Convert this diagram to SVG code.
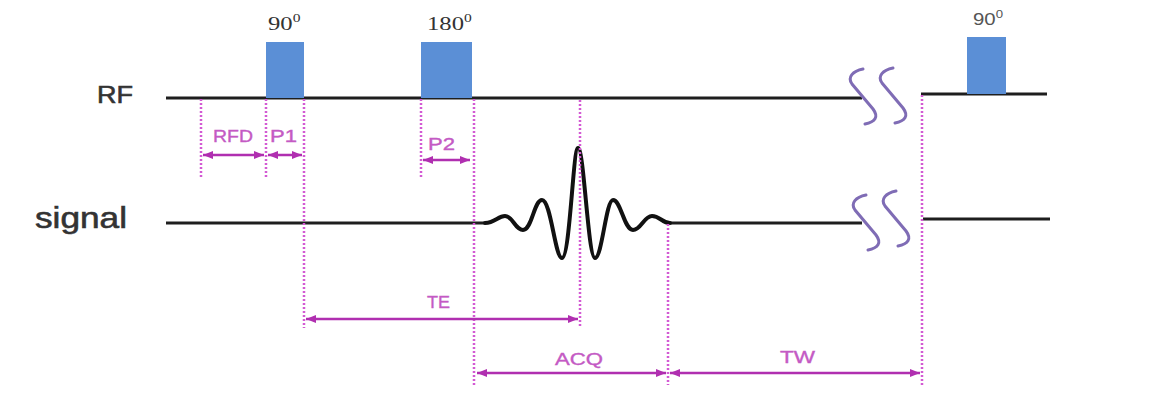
<svg xmlns="http://www.w3.org/2000/svg" width="1169" height="401" viewBox="0 0 1169 401">
<style>
.base{stroke:#1e1e1e;stroke-width:3;fill:none}
.wave{stroke:#111;stroke-width:4;fill:none;stroke-linejoin:round;stroke-linecap:round}
.pulse{fill:#5b8fd6}
.dot{stroke:#d35ad3;stroke-width:2.5;stroke-dasharray:2 2;fill:none}
.arr{stroke:#b02fb0;stroke-width:2.5;fill:none;marker-start:url(#ah);marker-end:url(#ah)}
.lbl{font-family:"Liberation Sans",Arial,sans-serif;font-size:16.5px;fill:#c45ac4;stroke:#c45ac4;stroke-width:0.35}
.axis{font-family:"Liberation Sans",Arial,sans-serif;fill:#333;stroke:#333;stroke-width:0.6}
.deg{font-family:"Liberation Serif","Times New Roman",serif;font-size:19px;fill:#333}
.brk{stroke:#7f6cb5;stroke-width:3;fill:none;stroke-linecap:round}
</style>
<defs>
<marker id="ah" markerUnits="userSpaceOnUse" markerWidth="11" markerHeight="9" refX="10" refY="4" orient="auto-start-reverse">
<path d="M0,0 L10,4 L0,8 z" fill="#b02fb0"/>
</marker>
<path id="s" d="M14,0 C4,2 -2,8 3,15 L24,40 C30,48 26,53 16,55"/>
</defs>
<rect width="1169" height="401" fill="#fff"/>

<g id="rf-axis">
<text class="axis" x="97" y="103" font-size="24" textLength="36" lengthAdjust="spacingAndGlyphs">RF</text>
<line class="base" x1="166" y1="98" x2="862" y2="98"/>
<line class="base" x1="921" y1="94" x2="1047" y2="94"/>
</g>

<g id="signal-axis">
<text class="axis" x="35" y="228" font-size="29" textLength="92" lengthAdjust="spacingAndGlyphs">signal</text>
<line class="base" x1="166" y1="223" x2="485" y2="223"/>
<line class="base" x1="670" y1="223" x2="862" y2="223"/>
<line class="base" x1="923" y1="219" x2="1050" y2="219"/>
<path class="wave" d="M485,223 C495,223 498,216 505,216 C513,216 515,230 523,230 C532,230 534,200 542,200 C551,200 555,258 562,258 C570,258 573,148 578,148 C584,148 588,258 595,258 C602,258 606,200 613,200 C621,200 624,230 633,230 C641,230 644,216 652,216 C660,216 662,223 670,223"/>
</g>

<g id="pulse-90">
<rect class="pulse" x="266" y="42" width="38" height="56"/>
<text class="deg" transform="translate(268,30) scale(1.3,1)">90<tspan font-size="12" dy="-8">0</tspan></text>
</g>

<g id="pulse-180">
<rect class="pulse" x="421" y="42" width="51" height="56"/>
<text class="deg" transform="translate(427,30) scale(1.3,1)">180<tspan font-size="12" dy="-8">0</tspan></text>
</g>

<g id="pulse-90b">
<rect class="pulse" x="967" y="37" width="39" height="57"/>
<text transform="translate(973,25) scale(1.2,1)" font-family="Liberation Sans,Arial,sans-serif" font-size="17" fill="#555">90<tspan font-size="11" dy="-7">0</tspan></text>
</g>

<g id="breaks">
<use href="#s" class="brk" x="849" y="69"/>
<use href="#s" class="brk" x="879" y="68"/>
<use href="#s" class="brk" x="852" y="195"/>
<use href="#s" class="brk" x="882" y="191"/>
</g>

<g id="guides">
<line class="dot" x1="201" y1="99" x2="201" y2="177"/>
<line class="dot" x1="266" y1="99" x2="266" y2="177"/>
<line class="dot" x1="304" y1="99" x2="304" y2="328"/>
<line class="dot" x1="421" y1="99" x2="421" y2="178"/>
<line class="dot" x1="474" y1="99" x2="474" y2="385"/>
<line class="dot" x1="580" y1="100" x2="580" y2="328"/>
<line class="dot" x1="668" y1="224" x2="668" y2="385"/>
<line class="dot" x1="922" y1="95" x2="922" y2="385"/>
</g>

<g id="connectors">
<line class="arr" x1="203" y1="155" x2="264" y2="155"/>
<line class="arr" x1="268" y1="155" x2="302" y2="155"/>
<line class="arr" x1="423" y1="160" x2="470" y2="160"/>
<line class="arr" x1="306" y1="319" x2="578" y2="319"/>
<line class="arr" x1="477" y1="373" x2="666" y2="373"/>
<line class="arr" x1="670" y1="373" x2="920" y2="373"/>
</g>

<g id="labels">
<text class="lbl" x="213" y="142" textLength="40" lengthAdjust="spacingAndGlyphs">RFD</text>
<text class="lbl" x="270" y="142" textLength="27" lengthAdjust="spacingAndGlyphs">P1</text>
<text class="lbl" x="428" y="150" textLength="27" lengthAdjust="spacingAndGlyphs">P2</text>
<text class="lbl" x="427" y="308" textLength="23" lengthAdjust="spacingAndGlyphs">TE</text>
<text class="lbl" x="555" y="365" textLength="48" lengthAdjust="spacingAndGlyphs">ACQ</text>
<text class="lbl" x="780" y="363" textLength="35" lengthAdjust="spacingAndGlyphs">TW</text>
</g>
</svg>
